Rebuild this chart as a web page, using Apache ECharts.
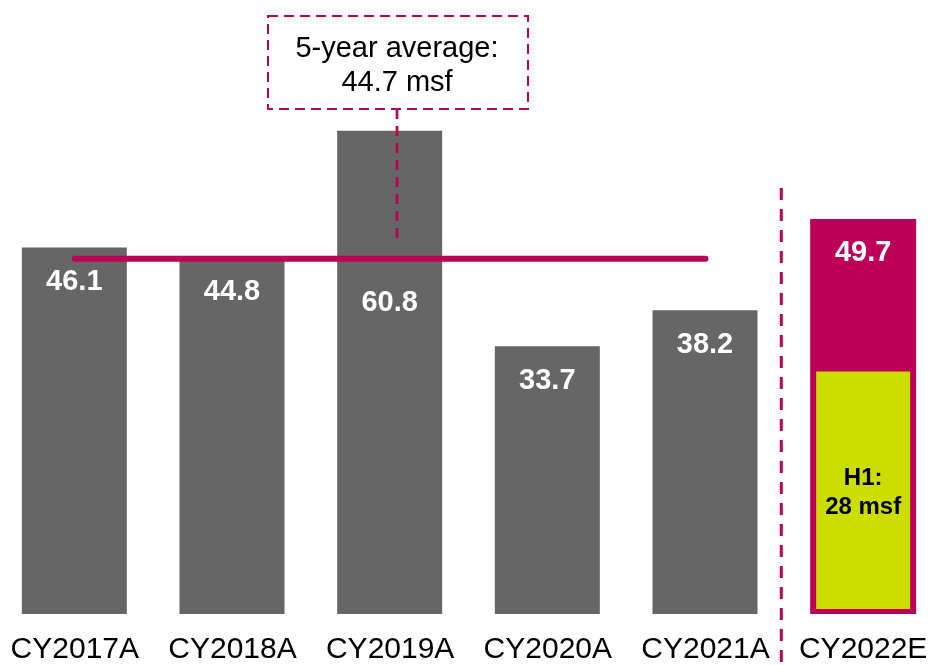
<!DOCTYPE html>
<html>
<head>
<meta charset="utf-8">
<script src="https://cdn.jsdelivr.net/npm/echarts@6/dist/echarts.min.js"></script>
<style>
html,body{margin:0;padding:0;background:#fff;overflow:hidden;width:930px;height:665px;}
#chart{position:absolute;left:-4px;top:0;width:946px;height:665px;}
</style>
</head>
<body>
<div id="chart"></div>
<script>
// ---- data ----
const categories = ['CY2017A', 'CY2018A', 'CY2019A', 'CY2020A', 'CY2021A', 'CY2022E'];
const actualValues = [46.1, 44.8, 60.8, 33.7, 38.2, null];
const estimateValues = [null, null, null, null, null, 49.7];
const h1Values = [null, null, null, null, null, 30.5];   // drawn height of H1 segment
const h1LabelText = 'H1:\n28 msf';
const averageValue = 44.7;
const averageSpan = [true, true, true, true, true, false];
const valueLabelDistances = [20, 20, 158, 20, 20, 20];

// ---- styles ----
const GRAY = '#666666';
const MAGENTA = '#BC0059';
const LIME = '#CCDD00';
const FONT = '"Liberation Sans", Arial, Helvetica, sans-serif';
const pxPerUnit = 558.4 / 70;
const insetUnits = 5 / pxPerUnit;
const DX = 4; // container shift

const chart = echarts.init(document.getElementById('chart'), null, {renderer: 'canvas'});

const valueLabel = (i) => ({
  show: true,
  position: 'insideTop',
  distance: valueLabelDistances[i],
  color: '#fff',
  fontFamily: FONT,
  fontWeight: 'bold',
  fontSize: 29,
  formatter: (p) => p.value.toFixed(1)
});

const grayData = actualValues.map((v, i) => v == null ? '-' : {value: v, label: valueLabel(i)});
const magentaData = estimateValues.map((v, i) => v == null ? '-' : {value: v, label: valueLabel(i)});
const h1Base = h1Values.map(v => v == null ? '-' : insetUnits);
const h1Data = h1Values.map(v => v == null ? '-' : v - insetUnits);
const avgData = averageSpan.map(s => s ? averageValue : '-');

const option = {
  animation: false,
  backgroundColor: '#fff',
  grid: {left: 0, top: 57.6, right: 0, bottom: 49, containLabel: false},
  xAxis: [
    {
      type: 'category', data: categories,
      axisLine: {show: false}, axisTick: {show: false},
      axisLabel: {color: '#000', fontFamily: FONT, fontSize: 30, margin: 21, interval: 0}
    },
    {
      type: 'category', data: categories, show: false
    }
  ],
  yAxis: {
    type: 'value', min: 0, max: 70, show: false, splitLine: {show: false}
  },
  series: [
    {
      type: 'bar', name: 'actual', xAxisIndex: 0, data: grayData,
      barWidth: 105, barGap: '-100%',
      itemStyle: {color: GRAY}, z: 2
    },
    {
      type: 'bar', name: 'estimate', xAxisIndex: 0, data: magentaData,
      barWidth: 106, barGap: '-100%',
      itemStyle: {color: MAGENTA}, z: 2
    },
    {
      type: 'bar', name: 'h1base', xAxisIndex: 1, stack: 'h1', data: h1Base,
      barWidth: 94, itemStyle: {color: 'rgba(0,0,0,0)'}, z: 3, silent: true
    },
    {
      type: 'bar', name: 'h1', xAxisIndex: 1, stack: 'h1', data: h1Data,
      barWidth: 94, itemStyle: {color: LIME}, z: 3,
      label: {
        show: true, position: 'inside', formatter: h1LabelText, offset: [0, 3],
        color: '#000', fontFamily: FONT, fontWeight: 'bold', fontSize: 24, lineHeight: 29
      }
    },
    {
      type: 'line', name: 'average', xAxisIndex: 0, data: avgData,
      symbol: 'none', z: 4,
      lineStyle: {color: MAGENTA, width: 6, cap: 'round'}
    }
  ],
  graphic: [
    {
      type: 'rect', left: 267 + DX, top: 15, z: 10,
      shape: {width: 260, height: 93},
      style: {fill: '#fff', stroke: MAGENTA, lineWidth: 2, lineDash: [10, 6]}
    },
    {
      type: 'text', z: 11, x: 397 + DX, y: 66,
      style: {
        text: '5-year average:\n' + averageValue.toFixed(1) + ' msf',
        fill: '#000', font: '29px ' + FONT, lineHeight: 34,
        align: 'center', verticalAlign: 'middle'
      }
    },
    {
      type: 'line', z: 10,
      shape: {x1: 397 + DX, y1: 109, x2: 397 + DX, y2: 244},
      style: {stroke: MAGENTA, lineWidth: 2.7, lineDash: [10, 7]}
    },
    {
      type: 'line', z: 10,
      shape: {x1: 781.3 + DX, y1: 188, x2: 781.3 + DX, y2: 665},
      style: {stroke: MAGENTA, lineWidth: 3, lineDash: [12, 9]}
    }
  ]
};
chart.setOption(option);
</script>
</body>
</html>
